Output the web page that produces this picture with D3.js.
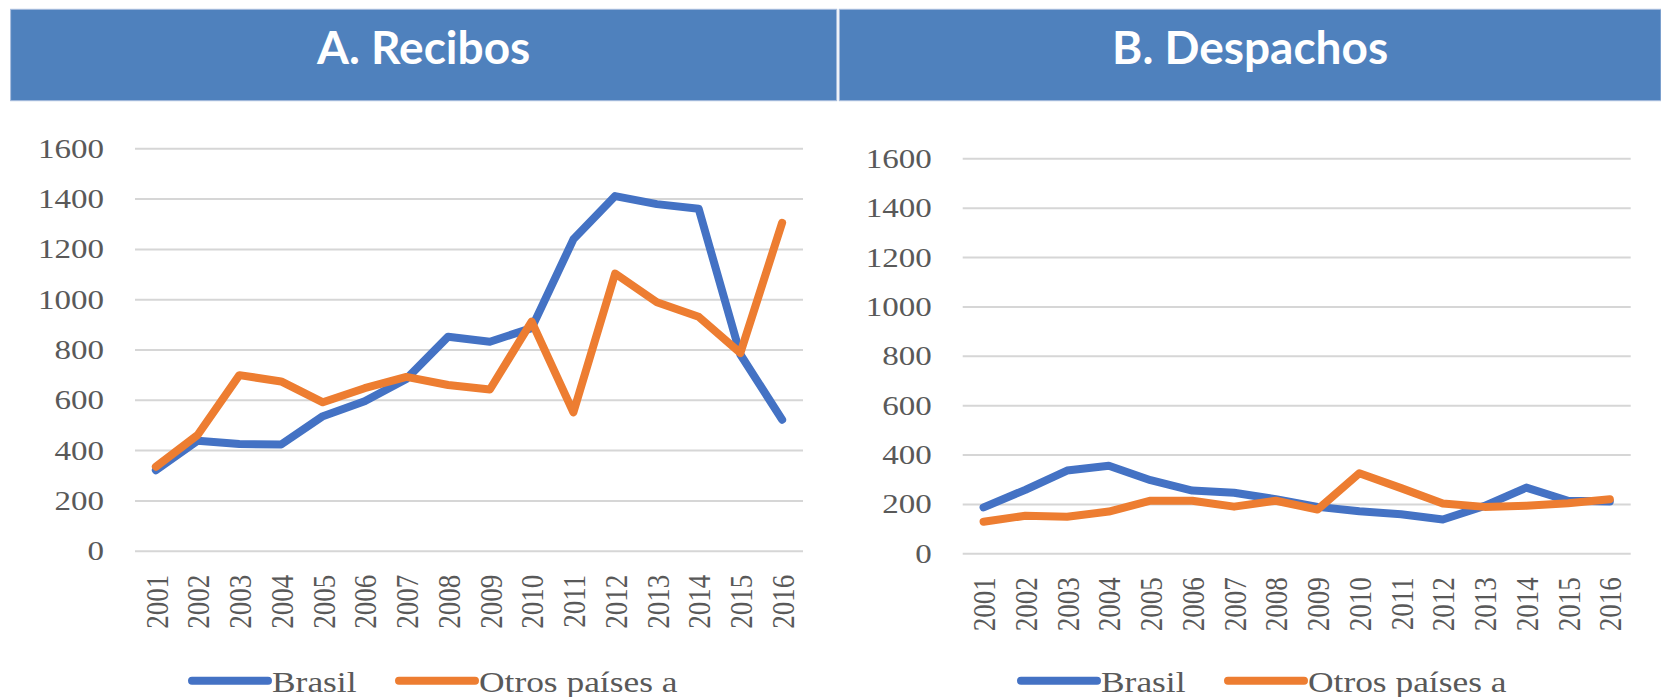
<!DOCTYPE html>
<html lang="es">
<head>
    <meta charset="UTF-8">
    <title>Recibos y Despachos</title>
    <script src="https://cdn.jsdelivr.net/npm/d3@7/dist/d3.min.js"></script>
    <style>
        *{
            padding: 0;
            margin: 0;
        }
        body{
            background: #ffffff;
        }
        svg{
            display: block;
        }
        .tick text{
            font-family: "Liberation Serif", "Times New Roman", serif;
            fill: #595959;
        }
    </style>
</head>
<body>
<script>
    // datos
    let years = ["2001","2002","2003","2004","2005","2006","2007","2008",
                 "2009","2010","2011","2012","2013","2014","2015","2016"];
    let yTicks = [0,200,400,600,800,1000,1200,1400,1600];
    let seriesNames = ["Brasil","Otros países a"];
    let panelTitles = ["A. Recibos","B. Despachos"];

    let recibosBrasil = [320,437,424,422,535,594,683,851,831,885,1238,1410,1378,1360,780,521];
    let recibosOtros  = [334,460,698,673,590,646,691,659,641,911,550,1102,988,930,786,1304];

    let despachosBrasil = [186,257,335,355,296,254,245,219,188,170,158,137,192,266,213,210];
    let despachosOtros  = [128,152,148,169,213,213,189,213,177,324,264,202,188,193,203,219];

    let colors = ["#4472C4","#ED7D31"];
    let headerColor = "#4F81BD";

    let W = 1661, H = 697;
    let svg = d3.select("body")
        .append("svg")
        .attr("width", W)
        .attr("height", H);

    // paneles: caja del titulo, area del grafico, leyenda
    let panels = [
        {title:panelTitles[0], data:[recibosBrasil,recibosOtros],
         box:[10.6,836.7], plot:{x0:135,x1:803,y0:550.7,y1:148.3}, legendX:188},
        {title:panelTitles[1], data:[despachosBrasil,despachosOtros],
         box:[839.3,1661], plot:{x0:962.7,x1:1630.7,y0:553.3,y1:158.3}, legendX:1017}
    ];

    let stretch = 1.18; // el original esta algo ensanchado

    function drawHeader(p){
        svg.append("rect")
            .attr("x", p.box[0])
            .attr("y", 9.3)
            .attr("width", p.box[1]-p.box[0])
            .attr("height", 91.4)
            .attr("fill", headerColor)
            .attr("stroke", "#a7bcdc")
            .attr("stroke-width", 1);
        svg.append("text")
            .attr("x", (p.box[0]+p.box[1])/2)
            .attr("y", 64)
            .attr("text-anchor", "middle")
            .attr("font-family", "Lato, 'Open Sans', sans-serif")
            .attr("font-weight", "bold")
            .attr("font-size", 46)
            .attr("fill", "#ffffff")
            .text(p.title);
    }

    function drawPanel(p){
        let x = d3.scalePoint().domain(years).range([p.plot.x0,p.plot.x1]).padding(0.5);
        let y = d3.scaleLinear().domain([0,1600]).range([p.plot.y0,p.plot.y1]);

        // rejilla
        let g = svg.append("g");
        g.append("g")
            .attr("transform","translate(" + p.plot.x0 + ",0)")
            .call(d3.axisLeft(y).tickValues(yTicks).tickFormat(d3.format("d"))
                .tickSize(-(p.plot.x1-p.plot.x0)).tickPadding(31))
            .call(function(a){
                a.select(".domain").remove();
                a.selectAll(".tick line").attr("stroke","#d6d6d6").attr("stroke-width",2);
                a.selectAll(".tick text")
                    .attr("font-size",28)
                    .attr("transform","translate(-31,0) scale(" + stretch + ",1) translate(31,0)");
            });

        // eje x con etiquetas verticales
        g.append("g")
            .attr("transform","translate(0," + p.plot.y0 + ")")
            .call(d3.axisBottom(x).tickSize(0))
            .call(function(a){
                a.select(".domain").remove();
                a.selectAll(".tick text")
                    .attr("font-size",27)
                    .attr("text-anchor","end")
                    .attr("x",0)
                    .attr("y",0)
                    .attr("dy","0.35em")
                    .attr("transform","scale(" + stretch + ",1) rotate(-90) translate(-24,0)");
            });

        // lineas
        let line = d3.line()
            .x(function(d,i){ return x(years[i]); })
            .y(function(d){ return y(d); });
        p.data.forEach(function(s,k){
            g.append("path")
                .datum(s)
                .attr("d", line)
                .attr("fill","none")
                .attr("stroke", colors[k])
                .attr("stroke-width", 8)
                .attr("stroke-linejoin","round")
                .attr("stroke-linecap","round");
        });

        // leyenda
        let lx = p.legendX;
        let items = [{x:0, name:seriesNames[0]}, {x:207, name:seriesNames[1]}];
        items.forEach(function(it,k){
            g.append("line")
                .attr("x1", lx+it.x+4)
                .attr("x2", lx+it.x+80)
                .attr("y1", 680.7)
                .attr("y2", 680.7)
                .attr("stroke", colors[k])
                .attr("stroke-width", 8)
                .attr("stroke-linecap","round");
            let tx = lx+it.x+84;
            g.append("text")
                .attr("x", 0)
                .attr("y", 0)
                .attr("transform","translate(" + tx + ",691.7) scale(" + stretch + ",1)")
                .attr("font-family","'Liberation Serif', 'Times New Roman', serif")
                .attr("font-size",30)
                .attr("fill","#595959")
                .text(it.name);
        });
    }

    panels.forEach(function(p){
        drawHeader(p);
        drawPanel(p);
    });
</script>
</body>
</html>
